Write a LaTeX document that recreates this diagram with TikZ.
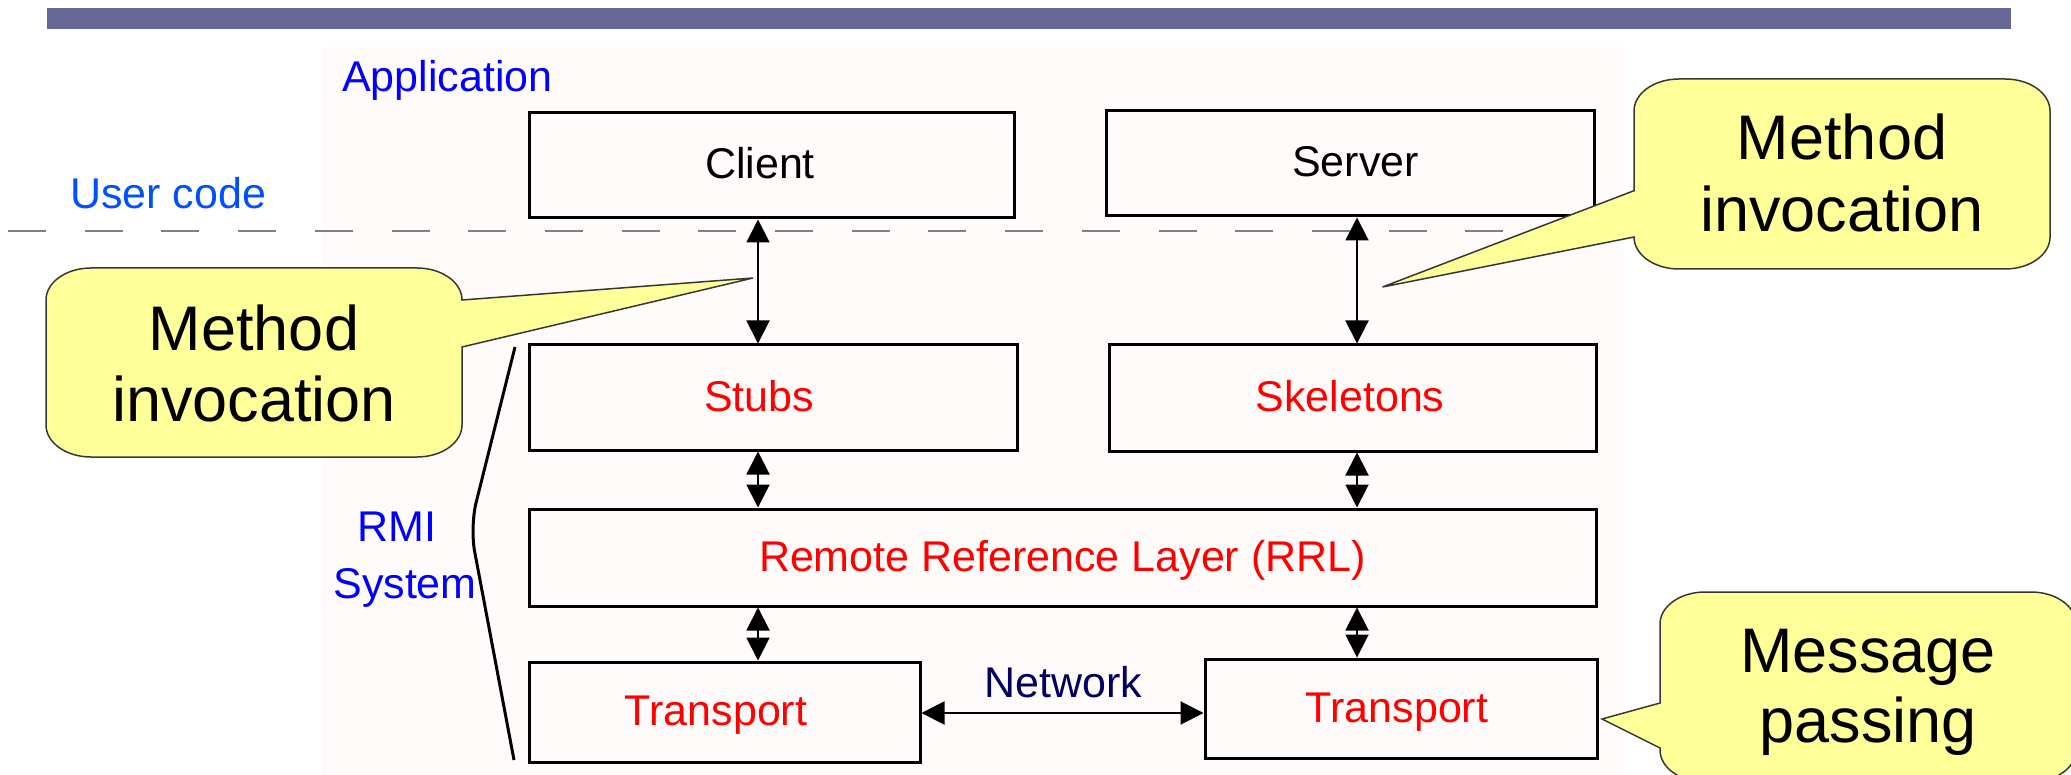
\documentclass[tikz,border=0pt]{standalone}
\usepackage{fontspec}
\setmainfont{Liberation Sans}
\usetikzlibrary{arrows.meta}

\definecolor{barcol}{RGB}{103,104,152}
\definecolor{panelbg}{RGB}{255,251,250}
\definecolor{appblue}{RGB}{0,0,255}
\definecolor{userblue}{RGB}{0,80,255}
\definecolor{layerred}{RGB}{255,0,0}
\definecolor{netnavy}{RGB}{0,0,100}
\definecolor{bubblefill}{RGB}{255,255,153}
\definecolor{bubbleline}{RGB}{55,55,55}
\definecolor{sepgray}{RGB}{128,128,128}

% rounded speech bubble, tail on the left edge:
% left, top, right, bottom, tail y1, tip x, tip y, tail y2
\newcommand{\bubbleleft}[8]{%
  \filldraw[bubble]
    (#1,#5) -- (#6,#7) -- (#1,#8) -- (#1,{#4-32})
    .. controls (#1,{#4-14.3}) and ({#1+20.2},#4) .. ({#1+45},#4)
    -- ({#3-45},#4)
    .. controls ({#3-20.2},#4) and (#3,{#4-14.3}) .. (#3,{#4-32})
    -- (#3,{#2+32})
    .. controls (#3,{#2+14.3}) and ({#3-20.2},#2) .. ({#3-45},#2)
    -- ({#1+45},#2)
    .. controls ({#1+20.2},#2) and (#1,{#2+14.3}) .. (#1,{#2+32})
    -- cycle;}

% rounded speech bubble, tail on the right edge (same arguments)
\newcommand{\bubbleright}[8]{%
  \filldraw[bubble]
    (#3,#5) -- (#6,#7) -- (#3,#8) -- (#3,{#4-32})
    .. controls (#3,{#4-14.3}) and ({#3-20.2},#4) .. ({#3-45},#4)
    -- ({#1+45},#4)
    .. controls ({#1+20.2},#4) and (#1,{#4-14.3}) .. (#1,{#4-32})
    -- (#1,{#2+32})
    .. controls (#1,{#2+14.3}) and ({#1+20.2},#2) .. ({#1+45},#2)
    -- ({#3-45},#2)
    .. controls ({#3-20.2},#2) and (#3,{#2+14.3}) .. (#3,{#2+32})
    -- cycle;}

\tikzset{
  layerbox/.style={draw=black, line width=3pt, inner sep=0pt,
    text height=31pt, text depth=4pt,
    font=\fontsize{43}{50}\selectfont},
  biarrow/.style={line width=2pt,
    {Triangle[length=23pt,width=23pt]}-{Triangle[length=23pt,width=23pt]}},
  smalltext/.style={inner sep=0pt, font=\fontsize{43}{50}\selectfont},
  bubble/.style={fill=bubblefill, draw=bubbleline, line width=1.5pt, line join=miter},
  bubbletext/.style={inner sep=0pt, anchor=base, font=\fontsize{63}{72}\selectfont},
  sepline/.style={draw=sepgray, line width=2.5pt, dash pattern=on 38pt off 38.7pt},
}

\begin{document}
\begin{tikzpicture}[x=1pt, y=-1pt]
  \clip (0,0) rectangle (2071,775);
  \fill[white] (0,0) rectangle (2071,775);

  % title bar and diagram panel
  \fill[barcol] (47,8) rectangle (2011,29);
  \fill[panelbg] (322,47) rectangle (1623,775);

  % user code / system separator
  \draw[sepline] (8,231) -- (1623,231);

  % layers (a kern before/after each label nudges it off the box centre)
  \node[layerbox, minimum width=485pt, minimum height=105pt] (client) at (771.5,165.5) {Client\kern23pt};
  \node[layerbox, minimum width=488pt, minimum height=105pt] (server) at (1350,163.5) {\kern11pt Server};
  \node[layerbox, text=layerred, minimum width=488pt, minimum height=105pt] (stubs) at (773,397.5) {Stubs\kern28pt};
  \node[layerbox, text=layerred, minimum width=487pt, minimum height=106pt] (skel) at (1352.5,398) {Skeletons\kern5pt};
  \node[layerbox, text=layerred, minimum width=1067pt, minimum height=97pt] (rrl) at (1062.5,557.5) {Remote Reference Layer (RRL)};
  \node[layerbox, text=layerred, minimum width=391pt, minimum height=100pt] (tleft) at (724.5,712) {Transport\kern17pt};
  \node[layerbox, text=layerred, minimum width=392pt, minimum height=99pt] (tright) at (1401,708.5) {Transport\kern8pt};

  % connector columns
  \coordinate (lx) at (758,0);
  \coordinate (rx) at (1357,0);
  \coordinate (ny) at (0,713);

  \draw[biarrow] (client.south -| lx) -- (stubs.north -| lx);
  \draw[biarrow] (server.south -| rx) -- (skel.north -| rx);
  \draw[biarrow] (stubs.south -| lx) -- (rrl.north -| lx);
  \draw[biarrow] (skel.south -| rx) -- (rrl.north -| rx);
  \draw[biarrow] (rrl.south -| lx) -- (tleft.north -| lx);
  \draw[biarrow] (rrl.south -| rx) -- (tright.north -| rx);
  \draw[biarrow] (tleft.east |- ny) -- (tright.west |- ny);

  % labels
  \node[smalltext, text=appblue, anchor=base west] (app) at (342,92) {Application};
  \node[smalltext, text=userblue, anchor=base west] (user) at (70,209) {User code};
  \node[smalltext, text=appblue, anchor=base] (rmi) at (397,541) {RMI};
  \node[smalltext, text=appblue, anchor=base] (sys) at (405,598) {System};
  \node[smalltext, text=netnavy, anchor=base] (net) at (1063,697) {Network};

  % RMI system bracket
  \draw[line width=3pt, rounded corners=25pt] (515,347) -- (470,527) -- (514,760);

  % speech bubbles
  \bubbleright{46}{268}{462}{457}{300}{753}{278}{347}
  \node[bubbletext] (lbA) at (254,350) {Method};
  \node[bubbletext] (lbB) at (254,421) {invocation};

  \bubbleleft{1634}{79}{2050}{269}{190.7}{1382.5}{287}{237}
  \node[bubbletext] (rbA) at (1842,160) {Method};
  \node[bubbletext] (rbB) at (1842,232) {invocation};

  \bubbleleft{1660}{592}{2076}{782}{703}{1602}{719}{748}
  \node[bubbletext] (mbA) at (1868,672) {Message};
  \node[bubbletext] (mbB) at (1868,742) {passing};
\end{tikzpicture}
\end{document}
